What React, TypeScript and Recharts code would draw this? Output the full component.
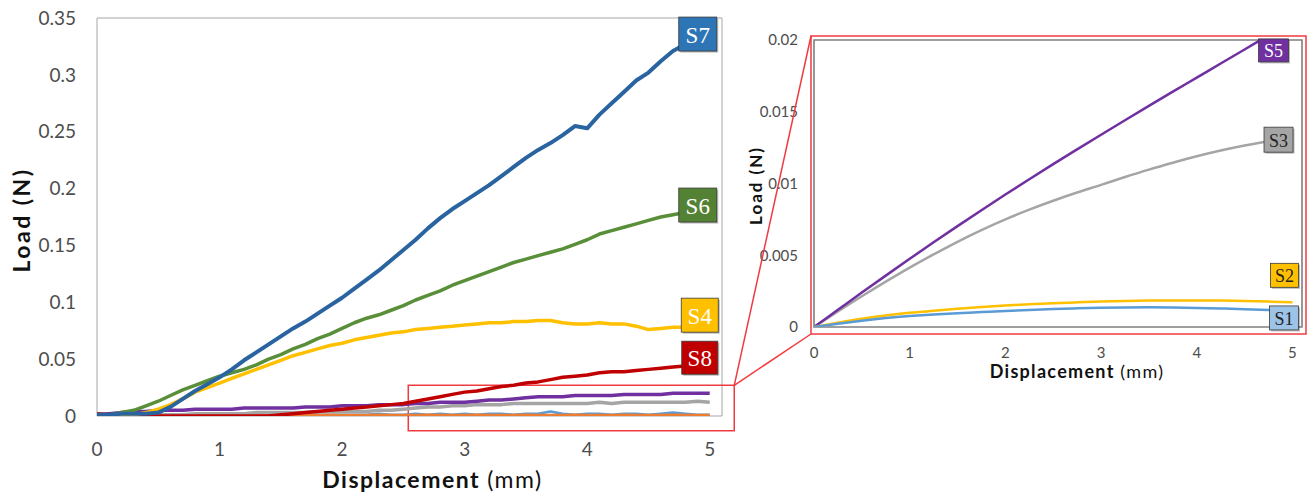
import React from 'react';
import { LineChart, Line, XAxis, YAxis, ReferenceArea } from 'recharts';

// ---------- Main chart data (displacement in mm, load in N) ----------
const displacement = [
  0, 0.1, 0.2, 0.3, 0.4, 0.5, 0.6, 0.7, 0.8, 0.9,
  1.0, 1.1, 1.2, 1.3, 1.4, 1.5, 1.6, 1.7, 1.8, 1.9,
  2.0, 2.1, 2.2, 2.3, 2.4, 2.5, 2.6, 2.7, 2.8, 2.9,
  3.0, 3.1, 3.2, 3.3, 3.4, 3.5, 3.6, 3.7, 3.8, 3.9,
  4.0, 4.1, 4.2, 4.3, 4.4, 4.5, 4.6, 4.7, 4.8, 4.9, 5.0,
];

const s1Load = [
  0, 0.001, 0.001, 0.001, 0.001, 0.001, 0.001, 0.001, 0.001, 0.001,
  0.001, 0.001, 0.001, 0.001, 0.001, 0.001, 0.001, 0.001, 0.001, 0.001,
  0.001, 0.001, 0.001, 0.002, 0.001, 0.001, 0.002, 0.001, 0.002, 0.001,
  0.002, 0.001, 0.002, 0.002, 0.001, 0.002, 0.002, 0.004, 0.002, 0.001,
  0.002, 0.002, 0.001, 0.002, 0.002, 0.001, 0.002, 0.003, 0.002, 0.001, 0.001,
];
const s2Load = [
  0, 0.0005, 0.0004, 0.0006, 0.0005, 0.0004, 0.0005, 0.0006, 0.0005, 0.0004,
  0.0005, 0.0006, 0.0005, 0.0004, 0.0005, 0.0006, 0.0005, 0.0004, 0.0005, 0.0006,
  0.0005, 0.0004, 0.0005, 0.0006, 0.0005, 0.0004, 0.0005, 0.0006, 0.0005, 0.0004,
  0.0005, 0.0006, 0.0005, 0.0004, 0.0005, 0.0006, 0.0005, 0.0004, 0.0005, 0.0006,
  0.0005, 0.0004, 0.0005, 0.0006, 0.0005, 0.0004, 0.0005, 0.0006, 0.0005, 0.0004, 0.0005,
];
const s3Load = [
  0, 0, 0.001, 0.001, 0.001, 0.001, 0.001, 0.001, 0.002, 0.002,
  0.002, 0.002, 0.002, 0.003, 0.003, 0.003, 0.003, 0.003, 0.004, 0.004,
  0.004, 0.004, 0.004, 0.005, 0.005, 0.006, 0.007, 0.008, 0.008, 0.009,
  0.009, 0.010, 0.010, 0.010, 0.011, 0.011, 0.011, 0.011, 0.011, 0.011,
  0.011, 0.012, 0.011, 0.012, 0.012, 0.012, 0.012, 0.012, 0.012, 0.013, 0.012,
];
const s4Load = [
  0, 0, 0.001, 0.001, 0.003, 0.006, 0.010, 0.015, 0.021, 0.025,
  0.029, 0.033, 0.037, 0.041, 0.045, 0.049, 0.053, 0.056, 0.059, 0.062,
  0.064, 0.067, 0.069, 0.071, 0.073, 0.074, 0.076, 0.077, 0.078, 0.079,
  0.080, 0.081, 0.082, 0.082, 0.083, 0.083, 0.084, 0.084, 0.082, 0.081,
  0.081, 0.082, 0.081, 0.081, 0.079, 0.076, 0.077, 0.078, 0.078, 0.079, 0.079,
];
const s5Load = [
  0.001, 0.002, 0.003, 0.004, 0.004, 0.005, 0.005, 0.005, 0.006, 0.006,
  0.006, 0.006, 0.007, 0.007, 0.007, 0.007, 0.007, 0.008, 0.008, 0.008,
  0.009, 0.009, 0.009, 0.010, 0.010, 0.010, 0.011, 0.011, 0.012, 0.012,
  0.012, 0.013, 0.014, 0.014, 0.015, 0.016, 0.017, 0.017, 0.017, 0.018,
  0.018, 0.018, 0.018, 0.019, 0.019, 0.019, 0.019, 0.020, 0.020, 0.020, 0.020,
];
const s6Load = [
  0.001, 0.001, 0.003, 0.005, 0.009, 0.013, 0.018, 0.023, 0.027, 0.031,
  0.035, 0.038, 0.041, 0.045, 0.050, 0.054, 0.059, 0.063, 0.068, 0.072,
  0.077, 0.082, 0.086, 0.089, 0.093, 0.097, 0.102, 0.106, 0.110, 0.115,
  0.119, 0.123, 0.127, 0.131, 0.135, 0.138, 0.141, 0.144, 0.147, 0.151,
  0.155, 0.160, 0.163, 0.166, 0.169, 0.172, 0.175, 0.177, 0.179, 0.181, 0.182,
];
const s7Load = [
  0.001, 0.001, 0.002, 0.002, 0.002, 0.003, 0.008, 0.015, 0.022, 0.028,
  0.034, 0.041, 0.049, 0.056, 0.063, 0.070, 0.077, 0.083, 0.090, 0.097,
  0.104, 0.112, 0.120, 0.128, 0.137, 0.146, 0.155, 0.165, 0.174, 0.182,
  0.189, 0.196, 0.203, 0.211, 0.219, 0.227, 0.234, 0.240, 0.247, 0.255,
  0.253, 0.265, 0.275, 0.285, 0.295, 0.302, 0.312, 0.321, 0.327, 0.331, 0.335,
];
const s8Load = [
  0.002, 0.001, 0.002, 0.001, 0.001, 0, 0, 0, 0, 0,
  0, 0, 0, 0, 0, 0.001, 0.002, 0.003, 0.004, 0.005,
  0.006, 0.007, 0.008, 0.009, 0.010, 0.011, 0.013, 0.015, 0.017, 0.019,
  0.021, 0.022, 0.024, 0.026, 0.027, 0.029, 0.030, 0.032, 0.034, 0.035,
  0.036, 0.038, 0.039, 0.039, 0.040, 0.041, 0.042, 0.043, 0.044, 0.045, 0.046,
];

const mainXTicks = [0, 1, 2, 3, 4, 5];
const mainYTicks = [0, 0.05, 0.1, 0.15, 0.2, 0.25, 0.3, 0.35];

// ---------- Inset chart data (model curves) ----------
const insetDisplacement = [
  0, 0.25, 0.5, 0.75, 1.0, 1.25, 1.5, 1.75, 2.0, 2.25, 2.5,
  2.75, 3.0, 3.25, 3.5, 3.75, 4.0, 4.25, 4.5, 4.75, 5.0,
];
const insetS1 = [
  0, 0.00023, 0.00044, 0.00062, 0.00076, 0.00087, 0.00096, 0.00104, 0.00112, 0.00119, 0.00125,
  0.0013, 0.00134, 0.00136, 0.00137, 0.00136, 0.00133, 0.00129, 0.00124, 0.00118, 0.00112,
];
const insetS2 = [
  0, 0.0003, 0.00057, 0.0008, 0.00099, 0.00114, 0.00127, 0.00139, 0.0015, 0.00159, 0.00166,
  0.00172, 0.00177, 0.00181, 0.00184, 0.00185, 0.00185, 0.00184, 0.00181, 0.00177, 0.00172,
];
const insetS3 = [
  0, 0.00108, 0.00214, 0.00316, 0.00414, 0.00506, 0.00594, 0.00675, 0.0075, 0.00818, 0.0088,
  0.00937, 0.0099, 0.01045, 0.01097, 0.01145, 0.0119, 0.0123, 0.01265, 0.01295, null,
];
const insetS5 = [
  0, 0.0012, 0.0024, 0.00358, 0.00475, 0.0059, 0.00703, 0.00814, 0.00923, 0.0103, 0.01135,
  0.01238, 0.0134, 0.01441, 0.01541, 0.0164, 0.01738, 0.01836, 0.01934, 0.02032, null,
];

const insetXTicks = [0, 1, 2, 3, 4, 5];
const insetYTicks = [0, 0.005, 0.01, 0.015, 0.02];

const mainData = displacement.map((d, i) => ({
  d,
  s1: s1Load[i], s2: s2Load[i], s3: s3Load[i], s4: s4Load[i],
  s5: s5Load[i], s6: s6Load[i], s7: s7Load[i], s8: s8Load[i],
}));
const insetData = insetDisplacement.map((d, i) => ({
  d, s1: insetS1[i], s2: insetS2[i], s3: insetS3[i], s5: insetS5[i],
}));

// ---------- Layout ----------
const MAIN = { width: 740, height: 497, left: 97, top: 18, right: 722, bottom: 416, xMax: 5.1, yMax: 0.35 };
const INSET = { offsetX: 740, width: 571, height: 400, left: 74, top: 40, right: 562, bottom: 327, xMax: 5.1, yMax: 0.02 };
const ZOOM = { x1: 2.54, x2: 5.2, y1: -0.013, y2: 0.027 };

const RED = '#EF3B40';
const TICK_FONT = "Lato, 'Open Sans', sans-serif";
const SERIF = "'Liberation Serif', 'DejaVu Serif', serif";

type TagSpec = { text: string; fill: string; color: string; w: number; h: number; dx: number; dy: number; size: number };

const makeTag = (spec: TagSpec, lastIndex: number) => (props: any) => {
  const { x, y, index } = props;
  if (index !== lastIndex || x == null || y == null) return <g key={`t-${index}`} />;
  const cx = x + spec.dx;
  const cy = y + spec.dy;
  return (
    <g key={`t-${index}`}>
      <rect x={cx - spec.w / 2 + 1.5} y={cy - spec.h / 2 + 1.5} width={spec.w} height={spec.h} fill="rgba(0,0,0,0.28)" />
      <rect x={cx - spec.w / 2} y={cy - spec.h / 2} width={spec.w} height={spec.h} fill={spec.fill} stroke="#3a3a3a" strokeWidth={0.8} />
      <text x={cx} y={cy + 1} textAnchor="middle" dominantBaseline="central" fontFamily={SERIF} fontSize={spec.size} fill={spec.color}>
        {spec.text}
      </text>
    </g>
  );
};

const mainSeries = [
  { key: 's1', color: '#5B9BD5', width: 2.5, tag: null },
  { key: 's2', color: '#ED7D31', width: 3.5, tag: null },
  { key: 's3', color: '#A5A5A5', width: 3.5, tag: null },
  { key: 's5', color: '#7030A0', width: 3.5, tag: null },
  { key: 's8', color: '#C00000', width: 3.5, tag: { text: 'S8', fill: '#C00000', color: '#fff', w: 36, h: 33, dx: -10, dy: -6, size: 23 } },
  { key: 's4', color: '#FFC000', width: 3.5, tag: { text: 'S4', fill: '#FFC000', color: '#fff', w: 37, h: 34, dx: -10, dy: -11, size: 23 } },
  { key: 's6', color: '#5A8F3A', width: 3.5, tag: { text: 'S6', fill: '#548235', color: '#fff', w: 38, h: 34, dx: -12, dy: -4, size: 23 } },
  { key: 's7', color: '#2A64A0', width: 4, tag: { text: 'S7', fill: '#2E75B6', color: '#fff', w: 38, h: 34, dx: -12, dy: -1, size: 23 } },
];

const insetSeries = [
  { key: 's3', color: '#A5A5A5', last: 19, tag: { text: 'S3', fill: '#A5A5A5', color: '#222', w: 29, h: 25, dx: 10, dy: -1.5, size: 18 } },
  { key: 's5', color: '#7030A0', last: 19, tag: { text: 'S5', fill: '#7030A0', color: '#fff', w: 30, h: 23, dx: 5, dy: 15, size: 18 } },
  { key: 's2', color: '#FFC000', last: 20, tag: { text: 'S2', fill: '#FFC000', color: '#222', w: 28, h: 24, dx: -8, dy: -27, size: 18 } },
  { key: 's1', color: '#5B9BD5', last: 20, tag: { text: 'S1', fill: '#9DC3E6', color: '#222', w: 29, h: 24, dx: -8.5, dy: 7, size: 18 } },
];

const mainXLabel = (props: any) => {
  const vb = props.viewBox;
  return (
    <text x={vb.x + vb.width / 2 + 23} y={vb.y + 72} textAnchor="middle" fontFamily={TICK_FONT} fontSize={23} fontWeight="bold" letterSpacing={1.5} fill="#111">
      Displacement <tspan fontWeight="normal">(mm)</tspan>
    </text>
  );
};
const mainYLabel = (props: any) => {
  const vb = props.viewBox;
  const cx = 21;
  const cy = vb.y + vb.height / 2 + 3;
  return (
    <text x={cx} y={cy} transform={`rotate(-90 ${cx} ${cy})`} textAnchor="middle" dominantBaseline="central" fontFamily={TICK_FONT} fontSize={23} fontWeight="bold" letterSpacing={2.5} fill="#111">
      Load (N)
    </text>
  );
};
const insetXLabel = (props: any) => {
  const vb = props.viewBox;
  return (
    <text x={vb.x + vb.width / 2 + 19} y={vb.y + 51} textAnchor="middle" fontFamily={TICK_FONT} fontSize={18} fontWeight="bold" letterSpacing={1.3} fill="#111">
      Displacement <tspan fontWeight="normal">(mm)</tspan>
    </text>
  );
};
const insetYLabel = (props: any) => {
  const vb = props.viewBox;
  const cx = 15;
  const cy = vb.y + vb.height / 2 + 2;
  return (
    <text x={cx} y={cy} transform={`rotate(-90 ${cx} ${cy})`} textAnchor="middle" dominantBaseline="central" fontFamily={TICK_FONT} fontSize={17} fontWeight="bold" letterSpacing={2} fill="#111">
      Load (N)
    </text>
  );
};

// Pixel position of a main-chart value, used only for the callout connectors
const mainPx = (v: number) => MAIN.left + (v / MAIN.xMax) * (MAIN.right - MAIN.left);
const mainPy = (l: number) => MAIN.bottom - (l / MAIN.yMax) * (MAIN.bottom - MAIN.top);

export default function App() {
  const anchorX = mainPx(ZOOM.x2);
  const anchorY = mainPy(ZOOM.y2);
  const frame = {
    x1: INSET.offsetX + INSET.left - 3,
    y1: INSET.top - 4,
    x2: INSET.offsetX + INSET.right + 4,
    y2: INSET.bottom + 7,
  };

  return (
    <div style={{ position: 'fixed', left: 0, top: 0, width: 1311, height: 497, background: '#fff' }}>
      <div style={{ position: 'absolute', left: 0, top: 0 }}>
        <LineChart
          width={MAIN.width}
          height={MAIN.height}
          data={mainData}
          margin={{ top: MAIN.top, right: MAIN.width - MAIN.right, bottom: 0, left: 0 }}
        >
          <XAxis
            dataKey="d"
            type="number"
            domain={[0, MAIN.xMax]}
            ticks={mainXTicks}
            allowDataOverflow
            height={MAIN.height - MAIN.bottom}
            axisLine={false}
            tickLine={false}
            tickSize={0}
            tickMargin={27}
            tick={{ fontFamily: TICK_FONT, fontSize: 19, fill: '#4D4D4D' }}
            label={{ content: mainXLabel }}
          />
          <YAxis
            type="number"
            domain={[0, MAIN.yMax]}
            ticks={mainYTicks}
            allowDataOverflow
            width={MAIN.left}
            axisLine={false}
            tickLine={false}
            tickSize={0}
            tickMargin={21}
            tick={{ fontFamily: TICK_FONT, fontSize: 19, fill: '#4D4D4D' }}
            label={{ content: mainYLabel }}
          />
          <ReferenceArea x1={0} x2={MAIN.xMax} y1={0} y2={MAIN.yMax} fill="none" stroke="#A6A6A6" strokeWidth={1} ifOverflow="visible" />
          {mainSeries.map((s) => (
            <Line
              key={s.key}
              dataKey={s.key}
              type="linear"
              stroke={s.color}
              strokeWidth={s.width}
              strokeLinejoin="round"
              dot={false}
              activeDot={false}
              isAnimationActive={false}
              label={s.tag ? makeTag(s.tag, displacement.length - 1) : false}
            />
          ))}
          <ReferenceArea x1={ZOOM.x1} x2={ZOOM.x2} y1={ZOOM.y1} y2={ZOOM.y2} fill="none" stroke={RED} strokeWidth={1.5} ifOverflow="visible" />
        </LineChart>
      </div>

      <div style={{ position: 'absolute', left: INSET.offsetX, top: 0 }}>
        <LineChart
          width={INSET.width}
          height={INSET.height}
          data={insetData}
          margin={{ top: INSET.top, right: INSET.width - INSET.right, bottom: 0, left: 0 }}
        >
          <XAxis
            dataKey="d"
            type="number"
            domain={[0, INSET.xMax]}
            ticks={insetXTicks}
            allowDataOverflow
            height={INSET.height - INSET.bottom}
            axisLine={false}
            tickLine={false}
            tickSize={0}
            tickMargin={20}
            tick={{ fontFamily: TICK_FONT, fontSize: 15, fill: '#4D4D4D' }}
            label={{ content: insetXLabel }}
          />
          <YAxis
            type="number"
            domain={[0, INSET.yMax]}
            ticks={insetYTicks}
            allowDataOverflow
            width={INSET.left}
            axisLine={false}
            tickLine={false}
            tickSize={0}
            tickMargin={16}
            tick={{ fontFamily: TICK_FONT, fontSize: 15, fill: '#4D4D4D' }}
            label={{ content: insetYLabel }}
          />
          <ReferenceArea x1={0} x2={INSET.xMax} y1={0} y2={INSET.yMax} fill="none" stroke="#7F7F7F" strokeWidth={1.6} ifOverflow="visible" />
          {insetSeries.map((s) => (
            <Line
              key={s.key}
              dataKey={s.key}
              type="monotone"
              stroke={s.color}
              strokeWidth={2.5}
              dot={false}
              activeDot={false}
              isAnimationActive={false}
              label={makeTag(s.tag, s.last)}
            />
          ))}
        </LineChart>
      </div>

      {/* Callout: frame around the inset and connectors back to the zoom box */}
      <svg width={1311} height={497} style={{ position: 'absolute', left: 0, top: 0, pointerEvents: 'none' }}>
        <rect x={frame.x1} y={frame.y1} width={frame.x2 - frame.x1} height={frame.y2 - frame.y1} fill="none" stroke={RED} strokeWidth={1.5} />
        <line x1={anchorX} y1={anchorY} x2={frame.x1} y2={frame.y1} stroke={RED} strokeWidth={1.5} />
        <line x1={anchorX} y1={anchorY} x2={frame.x1} y2={frame.y2} stroke={RED} strokeWidth={1.5} />
      </svg>
    </div>
  );
}
